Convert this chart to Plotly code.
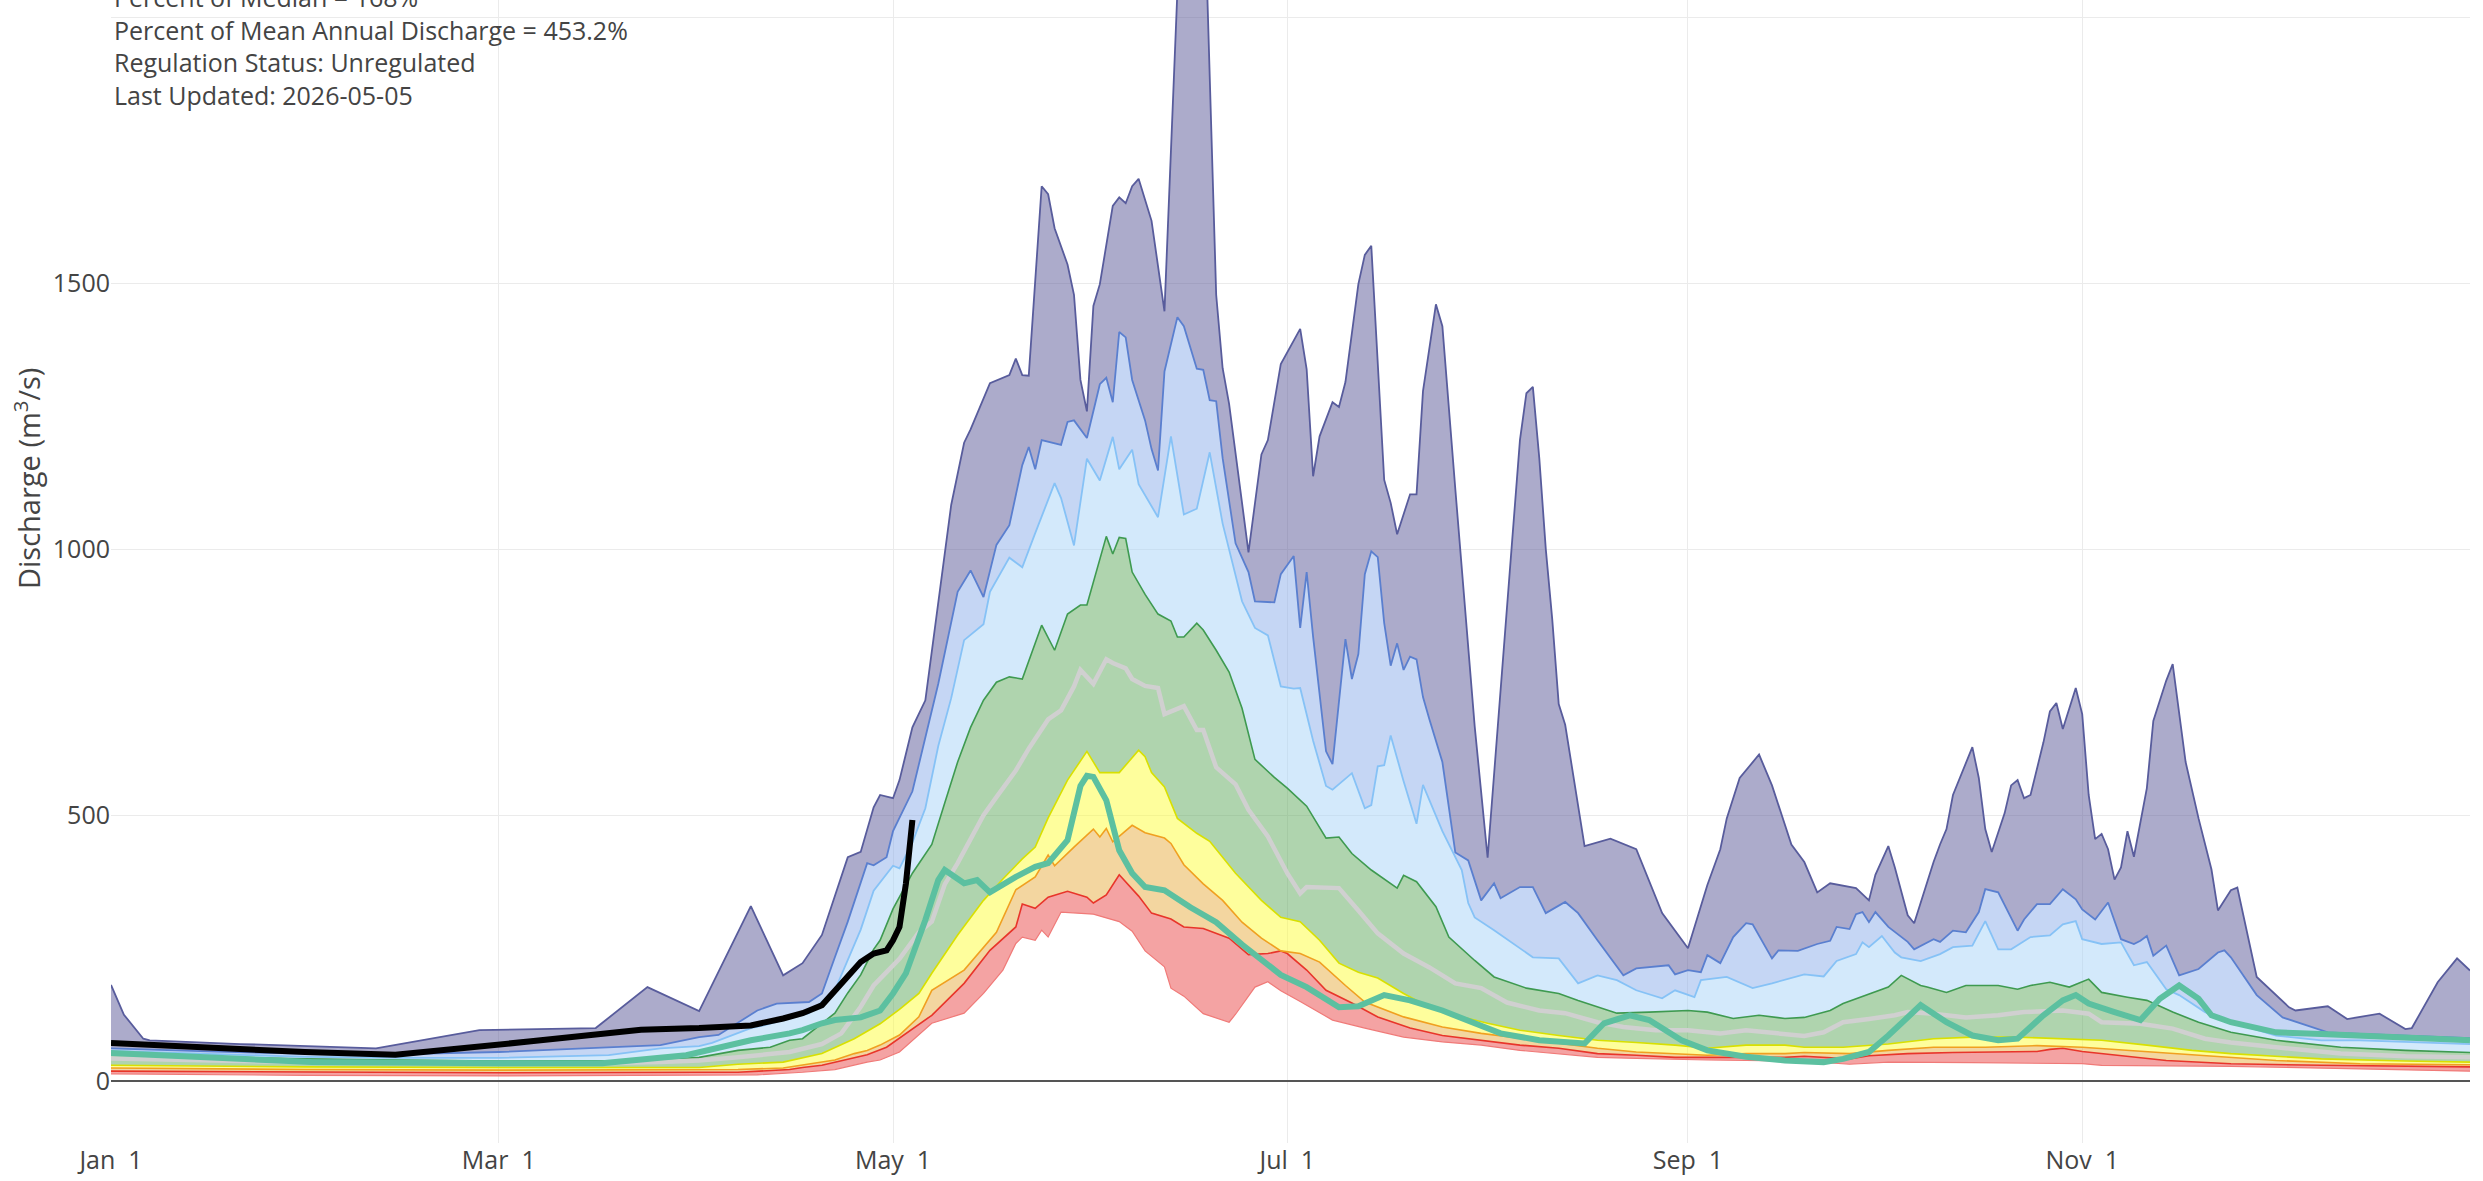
import pandas as pd
import plotly.graph_objects as go

BASE = pd.Timestamp("2024-01-01")

# ---------------- data (day of year, value in m3/s) ----------------
max_days = [0, 2, 5, 6, 20, 41, 57, 75, 83, 91, 99, 104, 107, 110, 114, 116, 118, 119, 121, 122, 124, 126,
            130, 132, 133, 136, 139, 140, 141, 142, 144, 145, 146, 148, 149, 150, 151, 152, 153, 155, 156, 157, 158,
            159, 161, 163, 166, 168, 169, 171, 172, 173, 176, 178, 179, 181, 184, 185, 186, 187, 189, 190, 191, 193,
            194, 195, 197, 198, 199, 201, 202, 203, 205, 206, 208, 211, 213, 216, 217, 218, 219, 220, 221, 222, 223,
            224, 225, 228, 232, 236, 240, 244, 247, 249, 250, 252, 255, 257, 260, 262, 264, 266, 270, 272, 273, 275,
            276, 278, 279, 282, 283, 284, 285, 287, 288, 289, 290, 291, 293, 294, 295, 296, 297, 299, 300, 301, 302,
            304, 305, 306, 307, 308, 309, 310, 311, 312, 313, 315, 316, 318, 319, 321, 323, 325, 326, 328, 329, 332,
            337, 338, 343, 346, 351, 355, 356, 360, 363, 365]
max_vals = [181, 125, 80, 77, 70, 62, 96, 100, 177, 132, 329, 199, 222, 275, 421, 431, 515, 538, 532, 566,
            665, 716, 1083, 1200, 1225, 1312, 1327, 1358, 1327, 1326, 1682, 1667, 1603, 1535, 1478, 1318, 1259, 1457,
            1498, 1645, 1661, 1650, 1682, 1696, 1617, 1447, 2350, 2450, 2300, 1478, 1340, 1273, 994, 1178, 1205, 1348,
            1414, 1338, 1137, 1212, 1276, 1267, 1314, 1498, 1553, 1570, 1130, 1087, 1028, 1103, 1103, 1297, 1460, 1419,
            1113, 667, 420, 900, 1060, 1205, 1293, 1305, 1170, 1000, 868, 709, 670, 442, 456, 436, 316, 250, 369, 436,
            494, 570, 614, 556, 445, 412, 355, 372, 363, 340, 388, 442, 402, 312, 297, 412, 445, 474, 538, 600, 628,
            570, 474, 431, 504, 556, 566, 532, 538, 637, 695, 711, 662, 739, 690, 538, 455, 465, 436, 379, 402, 470,
            422, 551, 677, 753, 784, 600, 494, 398, 321, 359, 364, 196, 139, 133, 141, 117, 127, 98, 100, 186, 231, 208]

p95_days = [0, 15, 30, 45, 60, 77, 85, 91, 94, 100, 103, 108, 110, 112, 114, 117, 118, 120, 121, 124, 128, 131, 133,
            135, 137, 139, 141, 142, 143, 144, 147, 148, 149, 151, 153, 154, 155, 156, 157, 158, 160, 161, 162, 163,
            165, 166, 168, 169, 170, 171, 172, 174, 176, 177, 180, 181, 183, 184, 185, 186, 188, 189, 191, 192, 193,
            194, 195, 196, 197, 198, 199, 200, 201, 202, 203, 204, 206, 208, 210, 212, 214, 215, 218, 220, 222, 225,
            227, 230, 234, 236, 241, 242, 244, 246, 247, 249, 251, 253, 254, 257, 258, 261, 264, 266, 267, 269, 270,
            271, 272, 273, 275, 278, 279, 282, 283, 285, 287, 289, 290, 292, 295, 296, 298, 300, 302, 304, 305, 307,
            309, 311, 313, 314, 315, 316, 318, 320, 323, 326, 327, 328, 332, 336, 343, 348, 355, 365]
p95_vals = [62, 56, 52, 51, 55, 64, 68, 83, 87, 133, 146, 149, 165, 233, 300, 410, 406, 421, 470, 545, 747, 920, 960,
            910, 1008, 1045, 1158, 1192, 1150, 1205, 1196, 1239, 1242, 1209, 1310, 1322, 1276, 1408, 1398, 1318, 1242,
            1188, 1148, 1334, 1436, 1419, 1339, 1337, 1280, 1278, 1171, 1011, 957, 902, 900, 953, 987, 852, 957, 835,
            620, 596, 831, 756, 803, 953, 996, 985, 861, 781, 823, 773, 798, 793, 722, 680, 600, 430, 415, 340, 372,
            344, 365, 365, 316, 337, 316, 265, 199, 212, 218, 201, 209, 205, 237, 222, 271, 297, 295, 231, 246, 245,
            258, 264, 290, 286, 314, 318, 299, 318, 290, 262, 248, 267, 262, 283, 280, 318, 361, 355, 283, 304, 333,
            333, 361, 342, 323, 304, 336, 267, 258, 264, 273, 236, 255, 199, 211, 242, 246, 233, 162, 120, 92, 89, 86, 81]

p90_days = [0, 15, 30, 45, 60, 77, 85, 91, 93, 99, 101, 104, 108, 112, 116, 118, 121, 122, 124, 126, 128, 130, 132,
            135, 136, 139, 141, 143, 146, 147, 149, 151, 153, 155, 156, 158, 159, 162, 164, 166, 168, 170, 172, 175,
            177, 179, 181, 183, 184, 186, 188, 189, 191, 192, 194, 195, 196, 197, 198, 200, 202, 203, 206, 209, 210,
            211, 214, 217, 220, 224, 227, 230, 233, 236, 240, 242, 245, 246, 250, 254, 257, 262, 265, 267, 270, 271,
            272, 274, 276, 277, 280, 283, 285, 288, 290, 292, 294, 297, 300, 302, 304, 305, 308, 311, 313, 315, 318,
            320, 324, 328, 335, 342, 348, 365]
p90_vals = [57, 51, 46, 44, 44, 49, 62, 66, 72, 100, 105, 115, 128, 171, 285, 358, 405, 400, 449, 513, 630, 720, 829,
            859, 920, 984, 966, 1030, 1124, 1096, 1007, 1170, 1129, 1211, 1150, 1187, 1122, 1060, 1212, 1065, 1076,
            1182, 1048, 902, 852, 838, 742, 738, 739, 640, 555, 548, 568, 579, 513, 519, 592, 594, 650, 564, 484, 557,
            470, 397, 335, 308, 284, 259, 233, 231, 184, 199, 190, 171, 156, 171, 158, 190, 196, 175, 184, 201, 197,
            226, 239, 261, 252, 273, 242, 233, 226, 239, 252, 255, 301, 248, 248, 271, 274, 295, 301, 267, 258, 261,
            218, 224, 173, 162, 130, 111, 86, 77, 77, 70]

p75_days = [0, 15, 30, 45, 60, 80, 91, 97, 102, 105, 107, 112, 114, 116, 118, 119, 121, 124, 127, 129, 131, 133, 135,
            137, 139, 141, 144, 146, 148, 150, 151, 154, 155, 156, 157, 158, 160, 162, 164, 165, 166, 168, 169, 171,
            173, 175, 177, 180, 182, 185, 188, 190, 192, 195, 199, 200, 202, 205, 207, 211, 214, 219, 224, 227, 230,
            233, 238, 244, 247, 251, 255, 259, 262, 266, 268, 272, 275, 277, 280, 281, 284, 287, 292, 295, 297, 300,
            303, 306, 308, 312, 315, 319, 323, 328, 335, 345, 355, 365]
p75_vals = [50, 46, 42, 40, 38, 39, 45, 58, 64, 77, 80, 128, 166, 200, 248, 265, 324, 391, 445, 523, 600, 665, 716,
            750, 760, 756, 857, 810, 878, 895, 895, 1024, 991, 1022, 1020, 957, 915, 878, 865, 835, 835, 861, 848, 810,
            769, 701, 605, 571, 551, 517, 457, 459, 428, 397, 363, 387, 375, 328, 271, 227, 196, 175, 165, 152, 140,
            128, 130, 133, 130, 118, 124, 118, 120, 133, 146, 164, 177, 199, 180, 177, 167, 180, 180, 173, 180, 186,
            177, 192, 167, 158, 152, 130, 111, 92, 77, 64, 58, 54]

p50_days = [0, 15, 30, 45, 60, 75, 85, 91, 97, 105, 110, 113, 116, 118, 120, 122, 125, 127, 129, 131, 133, 135, 137,
            140, 142, 145, 147, 149, 150, 152, 154, 155, 157, 158, 160, 162, 163, 166, 168, 169, 171, 174, 176, 179,
            182, 184, 185, 190, 193, 196, 200, 204, 208, 212, 216, 221, 225, 230, 234, 239, 244, 249, 253, 258, 262,
            265, 268, 272, 276, 278, 282, 287, 292, 296, 302, 306, 308, 314, 319, 324, 328, 335, 345, 355, 365]
p50_vals = [43, 39, 36, 34, 33, 34, 36, 39, 45, 55, 70, 90, 140, 180, 205, 230, 280, 300, 370, 410, 455, 500, 534,
            584, 625, 680, 697, 742, 773, 747, 793, 786, 776, 756, 743, 739, 690, 705, 660, 660, 590, 558, 510, 460,
            391, 353, 365, 363, 321, 278, 240, 214, 184, 175, 148, 133, 128, 111, 102, 96, 96, 90, 96, 90, 85, 92, 111,
            117, 124, 130, 127, 120, 124, 130, 133, 127, 111, 108, 99, 80, 73, 64, 52, 47, 45]

p25_days = [0, 30, 60, 85, 91, 97, 104, 110, 115, 119, 122, 125, 127, 131, 135, 138, 141, 143, 145, 148, 151, 153,
            156, 159, 160, 161, 163, 165, 168, 170, 174, 178, 181, 184, 187, 190, 193, 196, 200, 204, 208, 213, 218,
            224, 230, 236, 242, 247, 253, 259, 262, 268, 275, 282, 288, 295, 302, 308, 315, 322, 328, 342, 355, 365]
p25_vals = [30, 27, 26, 26, 26, 32, 36, 52, 80, 108, 135, 165, 203, 275, 340, 380, 418, 440, 495, 566, 620, 580, 580,
            622, 610, 580, 553, 494, 466, 451, 391, 340, 308, 300, 265, 222, 205, 194, 165, 139, 124, 109, 96, 86, 77,
            73, 68, 62, 68, 68, 64, 64, 70, 80, 83, 83, 80, 77, 68, 58, 52, 42, 38, 36]

p10_days = [0, 30, 60, 91, 97, 104, 110, 112, 115, 117, 119, 122, 125, 127, 132, 137, 140, 143, 145, 146, 149, 152,
            153, 154, 155, 158, 160, 163, 164, 166, 169, 172, 175, 178, 181, 184, 187, 191, 194, 200, 206, 212, 218,
            224, 230, 236, 242, 247, 253, 259, 262, 269, 275, 282, 290, 298, 305, 312, 322, 335, 348, 365]
p10_vals = [25, 22, 21, 21, 22, 25, 37, 40, 52, 58, 68, 87, 121, 171, 209, 280, 360, 384, 425, 405, 440, 474, 459,
            475, 450, 481, 467, 457, 447, 407, 371, 340, 299, 269, 245, 240, 224, 180, 149, 121, 102, 90, 81, 71, 62,
            55, 52, 49, 52, 52, 54, 52, 58, 64, 64, 67, 64, 58, 49, 39, 33, 31]

p5_days = [0, 30, 60, 91, 97, 105, 107, 110, 114, 117, 120, 123, 127, 132, 136, 140, 141, 143, 145, 148, 151, 152,
           154, 156, 159, 161, 164, 166, 169, 173, 176, 179, 181, 182, 185, 188, 192, 196, 201, 206, 212, 218, 224,
           230, 236, 242, 253, 259, 262, 269, 272, 278, 285, 292, 298, 300, 302, 305, 310, 318, 328, 342, 365]
p5_vals = [19, 17, 16, 17, 17, 22, 26, 30, 42, 50, 64, 90, 124, 184, 246, 290, 333, 325, 346, 357, 346, 335, 350,
           388, 348, 316, 305, 290, 287, 269, 238, 240, 245, 240, 209, 171, 147, 121, 100, 86, 77, 68, 62, 52, 49, 45,
           45, 45, 47, 42, 48, 52, 54, 55, 56, 60, 62, 56, 50, 39, 33, 30, 27]

min_days = [0, 30, 60, 91, 100, 107, 112, 117, 119, 122, 127, 132, 135, 138, 140, 141, 143, 144, 145, 147, 152, 156,
            158, 160, 163, 164, 166, 169, 173, 174, 177, 179, 181, 184, 189, 194, 200, 206, 212, 218, 224, 230, 236,
            242, 247, 253, 259, 262, 269, 275, 288, 298, 305, 308, 328, 365]
min_vals = [14, 11, 10, 11, 12, 17, 22, 36, 40, 55, 109, 128, 165, 209, 259, 271, 265, 284, 271, 318, 314, 300, 282,
            245, 215, 175, 160, 127, 111, 126, 177, 187, 170, 150, 115, 100, 83, 74, 68, 58, 51, 45, 43, 41, 40, 39,
            38, 38, 32, 36, 35, 33, 33, 30, 28, 19]

last_year_days = [0, 15, 31, 60, 76, 89, 97, 99, 105, 107, 110, 112, 116, 119, 121, 123, 126, 128, 129, 132, 134, 136,
                  140, 143, 145, 148, 150, 151, 152, 154, 156, 158, 160, 163, 167, 171, 175, 179, 181, 185, 190, 193,
                  197, 201, 206, 211, 215, 221, 228, 231, 235, 238, 243, 247, 253, 259, 265, 268, 272, 275, 280, 284,
                  288, 292, 295, 299, 302, 304, 306, 310, 314, 317, 320, 323, 325, 328, 335, 342, 348, 365]
last_year_vals = [53, 44, 36, 34, 34, 49, 71, 77, 90, 96, 109, 115, 120, 133, 165, 203, 303, 378, 397, 372, 378, 355,
                  384, 403, 410, 453, 555, 574, 572, 528, 434, 391, 365, 359, 327, 299, 257, 218, 200, 177, 139, 141,
                  162, 152, 133, 109, 90, 77, 71, 109, 124, 115, 77, 58, 46, 39, 36, 42, 55, 86, 143, 111, 86, 77, 80,
                  124, 152, 162, 146, 130, 115, 155, 180, 155, 124, 111, 92, 89, 86, 77]

current_days = [0, 10, 20, 30, 44, 55, 65, 75, 82, 91, 99, 104, 107, 110, 114, 116, 118, 120, 121, 122, 123, 124]
current_vals = [72, 66, 60, 55, 50, 62, 75, 88, 97, 100, 105, 118, 128, 143, 196, 224, 240, 246, 265, 290, 372, 491]

x_tick_labels = ["Jan  1", "Mar  1", "May  1", "Jul  1", "Sep  1", "Nov  1"]
y_tick_values = [0, 500, 1000, 1500, 2000]

info_lines = [
    "Percent of Median = 168%",
    "Percent of Mean Annual Discharge = 453.2%",
    "Regulation Status: Unregulated",
    "Last Updated: 2026-05-05",
]


def to_dates(days):
    return [BASE + pd.Timedelta(days=int(d)) for d in days]


FONT = "Open Sans, verdana, arial, sans-serif"

fig = go.Figure()

bands = [
    # (days, values, line colour, line width, fill colour)
    (min_days, min_vals, "#f07a78", 1.2, None),
    (p5_days, p5_vals, "#e8352a", 1.6, "rgba(233,71,71,0.5)"),
    (p10_days, p10_vals, "#f0a020", 1.6, "rgba(231,173,65,0.5)"),
    (p25_days, p25_vals, "#d8e000", 1.6, "rgba(253,253,57,0.5)"),
    (p75_days, p75_vals, "#3e9a50", 1.6, "rgba(95,169,93,0.5)"),
    (p90_days, p90_vals, "#86c2f6", 1.8, "rgba(167,211,247,0.5)"),
    (p95_days, p95_vals, "#5a7fcf", 1.8, "rgba(139,173,233,0.5)"),
    (max_days, max_vals, "#585c9c", 1.8, "rgba(89,87,151,0.5)"),
]
for d, v, lc, lw, fc in bands:
    fig.add_trace(go.Scatter(
        x=to_dates(d), y=v, mode="lines",
        line=dict(color=lc, width=lw),
        fill="tonexty" if fc else None,
        fillcolor=fc,
        hoverinfo="skip", showlegend=False,
    ))

fig.add_trace(go.Scatter(x=to_dates(p50_days), y=p50_vals, mode="lines",
                         line=dict(color="#d0d0d0", width=4.5), showlegend=False))
fig.add_trace(go.Scatter(x=to_dates(last_year_days), y=last_year_vals, mode="lines",
                         line=dict(color="#5cc0a0", width=6), showlegend=False))
fig.add_trace(go.Scatter(x=to_dates(current_days), y=current_vals, mode="lines",
                         line=dict(color="#000000", width=6), showlegend=False))

tick_dates = ["2024-01-01", "2024-03-01", "2024-05-01", "2024-07-01", "2024-09-01", "2024-11-01"]

fig.update_layout(
    width=2483, height=1181,
    margin=dict(l=111, r=13, t=0, b=38),
    paper_bgcolor="white", plot_bgcolor="white",
    font=dict(family=FONT, size=25, color="#444"),
    showlegend=False,
    xaxis=dict(
        range=["2024-01-01", "2024-12-31"],
        tickvals=tick_dates, ticktext=x_tick_labels,
        showgrid=True, gridcolor="#ebebeb", gridwidth=1,
        zeroline=False, showline=False, ticks="",
        tickfont=dict(size=25, color="#444"),
    ),
    yaxis=dict(
        range=[-116, 2032],
        tickvals=y_tick_values,
        showgrid=True, gridcolor="#ebebeb", gridwidth=1,
        zeroline=True, zerolinecolor="#555", zerolinewidth=2,
        showline=False, ticks="",
        tickfont=dict(size=25, color="#444"),
    ),
    annotations=[
        dict(
            text="<br>".join(info_lines),
            xref="paper", yref="paper", x=0, y=1,
            xanchor="left", yanchor="top", align="left",
            xshift=1, yshift=22,
            showarrow=False, font=dict(size=25, color="#444", family=FONT),
        ),
        dict(
            text="Discharge (m<sup>3</sup>/s)",
            xref="paper", yref="paper", x=0, y=1 - 479 / 1143,
            xanchor="center", yanchor="middle", xshift=-84,
            textangle=-90, showarrow=False,
            font=dict(size=29, color="#444", family=FONT),
        ),
    ],
)

fig.write_html(
    "out.html",
    config={"displayModeBar": False},
    post_script="document.body.style.margin='0';document.body.style.overflow='hidden';",
)
